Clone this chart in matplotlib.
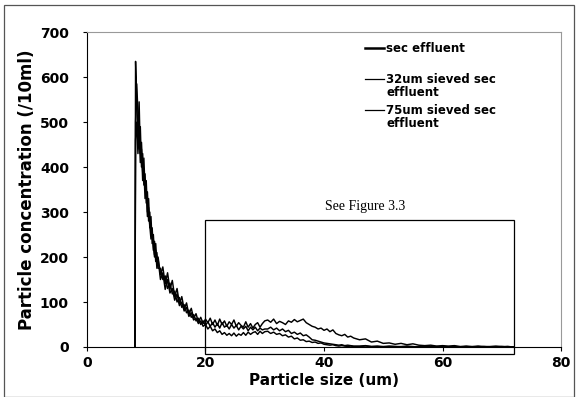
import matplotlib
matplotlib.use("Agg")
import matplotlib.pyplot as plt
import matplotlib.patches as patches

# particle size grid (um)
size_um = [8.1,
           8.2, 8.4, 8.6, 8.8, 9.0, 9.2, 9.4, 9.6, 9.8, 10.0,
           10.2, 10.4, 10.6, 10.8, 11.0, 11.2, 11.4, 11.6, 11.8, 12.0,
           12.4, 12.8, 13.2, 13.6, 14.0, 14.4, 14.8, 15.2, 15.6, 16.0,
           16.4, 16.8, 17.2, 17.6, 18.0, 18.4, 18.8, 19.2, 19.6, 20.0,
           20.4, 20.8, 21.2, 21.6, 22.0, 22.4, 22.8, 23.2, 23.6, 24.0,
           24.4, 24.8, 25.2, 25.6, 26.0, 26.4, 26.8, 27.2, 27.6, 28.0,
           28.4, 28.8, 29.2, 29.6, 30.0,
           30.5, 31.0, 31.5, 32.0, 32.5, 33.0, 33.5, 34.0, 34.5, 35.0,
           35.5, 36.0, 36.5, 37.0, 37.5, 38.0, 38.5, 39.0, 39.5, 40.0,
           40.5, 41.0, 41.5, 42.0, 42.5, 43.0, 43.5, 44.0, 44.5, 45.0,
           46, 47, 48, 49, 50, 51, 52, 53, 54, 55, 56, 57, 58, 59, 60,
           61, 62, 63, 64, 65, 66, 67, 68, 69, 70, 71, 72]

sec_effluent = [0,
                635, 540, 470, 545, 430, 455, 390, 420, 350, 370,
                300, 330, 265, 290, 230, 250, 205, 230, 185, 200,
                160, 178, 140, 165, 128, 148, 112, 130, 96, 112,
                84, 98, 72, 86, 64, 74, 56, 66, 52, 62,
                54, 64, 50, 60, 48, 62, 50, 58, 46, 56,
                50, 60, 46, 54, 48, 44, 56, 44, 52, 42,
                50, 54, 44, 52, 58,
                60, 55, 62, 52, 57, 54, 50, 58, 55, 61,
                56, 59, 62, 54, 50, 46, 44, 40, 42, 37,
                40, 34, 38, 30, 27, 25, 28, 22, 24, 20,
                16, 18, 11, 13, 8, 9, 6, 8, 5, 7, 4, 3, 4, 2, 3,
                2, 3, 1, 2, 1, 2, 1, 1, 2, 1, 1, 0]

sieved_32um = [0,
               500, 585, 520, 440, 490, 400, 430, 360, 385, 320,
               345, 280, 300, 250, 265, 215, 235, 190, 210, 175,
               175, 150, 158, 130, 142, 118, 124, 100, 110, 88,
               94, 76, 82, 66, 72, 58, 64, 50, 58, 48,
               56, 46, 54, 44, 52, 42, 54, 44, 48, 40,
               50, 42, 48, 38, 46, 40, 46, 36, 44, 38,
               44, 36, 42, 38, 40,
               40, 44, 38, 42, 36, 40, 34, 37, 30, 33,
               28, 31, 25, 27, 22, 16, 15, 13, 11, 9,
               8, 7, 6, 5, 4, 5, 3, 4, 3, 2,
               2, 3, 1, 2, 1, 2, 1, 1, 2, 1, 0, 1, 1, 0, 1,
               0, 1, 0, 1, 0, 0, 1, 0, 0, 1, 0, 0]

sieved_75um = [0,
               460, 500, 430, 480, 410, 440, 370, 395, 330, 350,
               290, 310, 270, 240, 255, 225, 200, 215, 175, 195,
               150, 165, 128, 150, 120, 130, 104, 118, 92, 100,
               80, 88, 68, 76, 60, 64, 52, 58, 46, 50,
               40, 46, 36, 40, 32, 36, 28, 32, 26, 30,
               25, 31, 24, 29, 26, 32, 26, 33, 28, 32,
               34, 28, 35, 30, 34,
               35, 30, 33, 28, 30, 25, 27, 22, 24, 18,
               20, 15, 16, 12, 13, 10, 11, 8, 9, 6,
               5, 4, 5, 3, 2, 3, 2, 1, 2, 1,
               1, 2, 1, 1, 0, 1, 1, 0, 1, 0, 1, 0, 0, 1, 0,
               0, 1, 0, 0, 0, 1, 0, 0, 0, 0, 1, 0]

labels = ["sec effluent", "32um sieved sec\neffluent", "75um sieved sec\neffluent"]

plt.rcParams["font.family"] = "DejaVu Sans"
plt.rcParams["font.weight"] = "bold"

fig = plt.figure(figsize=(5.76, 3.97), dpi=100)
ax = fig.add_axes([0.151, 0.126, 0.823, 0.793])

series = [sec_effluent, sieved_32um, sieved_75um]
for vals in series:
    ax.plot(size_um, vals, color="black", lw=1.05)

ax.set_xlim(0, 80)
ax.set_ylim(0, 700)
ax.set_xticks([0, 20, 40, 60, 80])
ax.set_yticks(range(0, 701, 100))
ax.tick_params(labelsize=10, length=3, width=0.8)
ax.tick_params(axis="y", pad=10)
ax.set_xlabel("Particle size (um)", fontsize=11, fontweight="bold", labelpad=2)
ax.set_ylabel("Particle concentration (/10ml)", fontsize=12, fontweight="bold", labelpad=3)

for s in ["top", "right"]:
    ax.spines[s].set_color("#999999")
    ax.spines[s].set_linewidth(0.8)
for s in ["left", "bottom"]:
    ax.spines[s].set_linewidth(0.8)

# box marking the zoomed region
box = patches.Rectangle((20, -15), 52, 297, fill=False, edgecolor="black",
                        lw=0.9, clip_on=False)
ax.add_patch(box)
ax.text(47, 313, "See Figure 3.3", family="Liberation Serif", fontweight="normal",
        fontsize=10, ha="center", va="center")

# legend drawn by hand (Excel style: handle on first text line)
leg_y = [0.949, 0.851, 0.752]
leg_lw = [1.8, 0.9, 0.9]
for lab, y, lw in zip(labels, leg_y, leg_lw):
    ax.plot([0.5865, 0.6266], [y, y], color="black", lw=lw,
            transform=ax.transAxes, clip_on=False)
    for i, line in enumerate(lab.split("\n")):
        ax.text(0.631, y - i * 0.042, line, transform=ax.transAxes,
                fontsize=8.5, fontweight="bold", ha="left", va="center")

# outer frame around the whole figure
fig.patches.append(patches.Rectangle((0.007, 0.0), 0.99, 0.987, transform=fig.transFigure,
                                     fill=False, edgecolor="#555555", lw=0.9))

plt.savefig("out.png", dpi=100)
